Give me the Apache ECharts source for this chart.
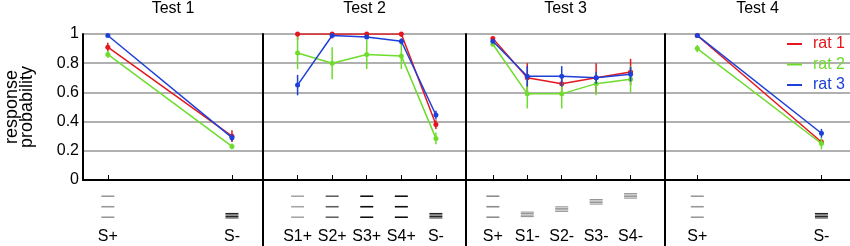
<!DOCTYPE html>
<html>
<head>
<meta charset="utf-8">
<script src="https://cdn.jsdelivr.net/npm/echarts@6/dist/echarts.min.js"></script>
<style>
	html, body { margin: 0; padding: 0; background: #fff; }
	#chart { width: 850px; height: 246px; }
</style>
</head>
<body>
<div id="chart"></div>
<script>
// values (response probability, mean and half error bar)
const t1Cats = ['S+', 'S-'];
const t1Rat1 = [0.91, 0.30];
const t1Rat1Err = [0.03, 0.04];
const t1Rat2 = [0.86, 0.23];
const t1Rat2Err = [0.025, 0.02];
const t1Rat3 = [0.99, 0.29];
const t1Rat3Err = [0.01, 0.025];

const t2Cats = ['S1+', 'S2+', 'S3+', 'S4+', 'S-'];
const t2Rat1 = [1.0, 1.0, 1.0, 1.0, 0.38];
const t2Rat1Err = [0.04, 0.03, 0.02, 0.02, 0.03];
const t2Rat2 = [0.87, 0.80, 0.86, 0.85, 0.285];
const t2Rat2Err = [0.11, 0.11, 0.10, 0.09, 0.04];
const t2Rat3 = [0.65, 0.99, 0.98, 0.95, 0.445];
const t2Rat3Err = [0.07, 0.01, 0.015, 0.02, 0.03];

const t3Cats = ['S+', 'S1-', 'S2-', 'S3-', 'S4-'];
const t3Rat1 = [0.97, 0.70, 0.66, 0.70, 0.74];
const t3Rat1Err = [0.01, 0.10, 0.06, 0.10, 0.09];
const t3Rat2 = [0.93, 0.59, 0.59, 0.66, 0.69];
const t3Rat2Err = [0.01, 0.10, 0.10, 0.08, 0.09];
const t3Rat3 = [0.95, 0.71, 0.71, 0.70, 0.725];
const t3Rat3Err = [0.01, 0.07, 0.07, 0.04, 0.05];

const t4Cats = ['S+', 'S-'];
const t4Rat1 = [0.99, 0.26];
const t4Rat1Err = [0.01, 0.02];
const t4Rat2 = [0.90, 0.25];
const t4Rat2Err = [0.025, 0.04];
const t4Rat3 = [0.99, 0.32];
const t4Rat3Err = [0.01, 0.03];

// stimulus pictograms under each category: kind, height, contrast
const t1StimKind = ['plus', 'minus'];
const t1StimLevel = [0.595, 0.46];
const t1StimContrast = [0.4, 0.9];
const t2StimKind = ['plus', 'plus', 'plus', 'plus', 'minus'];
const t2StimLevel = [0.595, 0.595, 0.595, 0.595, 0.46];
const t2StimContrast = [0.35, 0.62, 0.95, 0.95, 0.9];
const t3StimKind = ['plus', 'minus', 'minus', 'minus', 'minus'];
const t3StimLevel = [0.595, 0.48, 0.56, 0.67, 0.76];
const t3StimContrast = [0.45, 0.45, 0.45, 0.45, 0.45];
const t4StimKind = ['plus', 'minus'];
const t4StimLevel = [0.595, 0.46];
const t4StimContrast = [0.4, 0.9];

const ratNames = ['rat 1', 'rat 2', 'rat 3'];
const ratColors = ['#e4161e', '#6ddc2c', '#1d40d8'];

const panels = [
	{ title: 'Test 1', cats: t1Cats, rats: [[t1Rat1, t1Rat1Err], [t1Rat2, t1Rat2Err], [t1Rat3, t1Rat3Err]],
		stim: [t1StimKind, t1StimLevel, t1StimContrast], left: 83, width: 180, range: [-0.2, 1.25] },
	{ title: 'Test 2', cats: t2Cats, rats: [[t2Rat1, t2Rat1Err], [t2Rat2, t2Rat2Err], [t2Rat3, t2Rat3Err]],
		stim: [t2StimKind, t2StimLevel, t2StimContrast], left: 263, width: 203, range: [-1.0, 4.87] },
	{ title: 'Test 3', cats: t3Cats, rats: [[t3Rat1, t3Rat1Err], [t3Rat2, t3Rat2Err], [t3Rat3, t3Rat3Err]],
		stim: [t3StimKind, t3StimLevel, t3StimContrast], left: 466, width: 199, range: [-0.78, 5.0] },
	{ title: 'Test 4', cats: t4Cats, rats: [[t4Rat1, t4Rat1Err], [t4Rat2, t4Rat2Err], [t4Rat3, t4Rat3Err]],
		stim: [t4StimKind, t4StimLevel, t4StimContrast], left: 665, width: 185, range: [-0.26, 1.23] }
];

const font = 'Liberation Sans, Arial, Helvetica, sans-serif';
const title = [], grid = [], xAxis = [], yAxis = [], series = [];

panels.forEach(function (p, k) {
	const top = k * 2, bot = k * 2 + 1;
	const idx = p.cats.map((c, i) => i);
	title.push({
		text: p.title, left: p.left + p.width / 2, top: 1, textAlign: 'center', padding: 0,
		textStyle: { fontSize: 16, fontWeight: 'normal', color: '#000', fontFamily: font }
	});
	grid.push({ left: p.left, top: 34, width: p.width, height: 146 });
	grid.push({ left: p.left, top: 180, width: p.width, height: 66 });

	xAxis.push({
		type: 'value', gridIndex: top, min: p.range[0], max: p.range[1],
		splitLine: { show: false },
		axisLine: { show: true, onZero: false, lineStyle: { color: '#000', width: 2 } },
		axisTick: { show: true, inside: true, length: 5, customValues: idx, lineStyle: { color: '#000', width: 1 } },
		axisLabel: {
			customValues: idx, margin: 49, fontSize: 16, color: '#000', fontFamily: font,
			formatter: function (v) { return p.cats[Math.round(v)]; }
		}
	});
	xAxis.push({
		type: 'value', gridIndex: bot, min: p.range[0], max: p.range[1],
		axisLine: { show: false }, axisTick: { show: false }, axisLabel: { show: false }, splitLine: { show: false }
	});
	yAxis.push({
		type: 'value', gridIndex: top, min: 0, max: 1, interval: 0.2,
		axisLine: { show: true, onZero: false, lineStyle: { color: '#000', width: 2 } },
		axisTick: { show: false },
		axisLabel: { show: k === 0, fontSize: 16, color: '#000', margin: 4, fontFamily: font },
		splitLine: { show: true, lineStyle: { color: '#b0b0b0', width: 2 } },
		name: k === 0 ? 'response\nprobability' : '',
		nameLocation: 'middle', nameRotate: 90, nameGap: 48, nameMoveOverlap: false,
		nameTextStyle: { fontSize: 18, lineHeight: 15, color: '#000', fontFamily: font }
	});
	yAxis.push({
		type: 'value', gridIndex: bot, min: 0, max: 1,
		axisLine: { show: k > 0, onZero: false, lineStyle: { color: '#000', width: 2 } },
		axisTick: { show: false }, axisLabel: { show: false }, splitLine: { show: false }
	});

	// draw order: rat 2 underneath, rat 3 on top
	[1, 0, 2].forEach(function (r) {
		const mean = p.rats[r][0], err = p.rats[r][1];
		const color = ratColors[r];
		series.push({
			type: 'line', name: ratNames[r], xAxisIndex: top, yAxisIndex: top, z: 2 + r,
			data: mean.map((v, i) => [i, v]),
			color: color, symbol: 'circle', symbolSize: 5,
			lineStyle: { width: 1.5 }
		});
		series.push({
			type: 'custom', name: ratNames[r], xAxisIndex: top, yAxisIndex: top, z: 2 + r, clip: true,
			color: color, itemStyle: { color: color },
			data: mean.map((v, i) => [i, v - err[i], v + err[i]]),
			encode: { x: 0, y: [1, 2] },
			renderItem: function (params, api) {
				const a = api.coord([api.value(0), api.value(1)]);
				const b = api.coord([api.value(0), api.value(2)]);
				return { type: 'line', shape: { x1: a[0], y1: a[1], x2: b[0], y2: b[1] },
					style: { stroke: color, lineWidth: 1.5 } };
			}
		});
	});

	const kinds = p.stim[0], levels = p.stim[1], contrast = p.stim[2];
	series.push({
		type: 'custom', name: 'stim', xAxisIndex: bot, yAxisIndex: bot, silent: true,
		data: levels.map((v, i) => [i, v]),
		renderItem: function (params, api) {
			const c = api.coord([api.value(0), api.value(1)]);
			const i = params.dataIndex;
			const g = Math.round(255 * (1 - contrast[i]));
			const stroke = 'rgb(' + g + ',' + g + ',' + g + ')';
			const offs = kinds[i] === 'plus' ? [-10.5, 0, 10.5] : [-2.2, -0.7, 0.8, 2.3];
			const w = kinds[i] === 'plus' ? 1.6 : 1;
			return {
				type: 'group',
				children: offs.map(o => ({
					type: 'line',
					shape: { x1: c[0] - 6.5, y1: c[1] + o, x2: c[0] + 6.5, y2: c[1] + o },
					style: { stroke: stroke, lineWidth: w }
				}))
			};
		}
	});
});

const chart = echarts.init(document.getElementById('chart'));
chart.setOption({
	animation: false,
	textStyle: { fontFamily: font },
	title: title,
	legend: {
		data: ratNames.map((n, i) => ({ name: n, textStyle: { color: ratColors[i] }, itemStyle: { color: ratColors[i] } })),
		orient: 'vertical', left: 787, top: 36, padding: 0,
		icon: 'rect', itemWidth: 15, itemHeight: 2, itemGap: 4.5,
		textStyle: { fontSize: 16, fontFamily: font, padding: [0, 0, 0, 6] }
	},
	grid: grid,
	xAxis: xAxis,
	yAxis: yAxis,
	series: series
});
</script>
</body>
</html>
